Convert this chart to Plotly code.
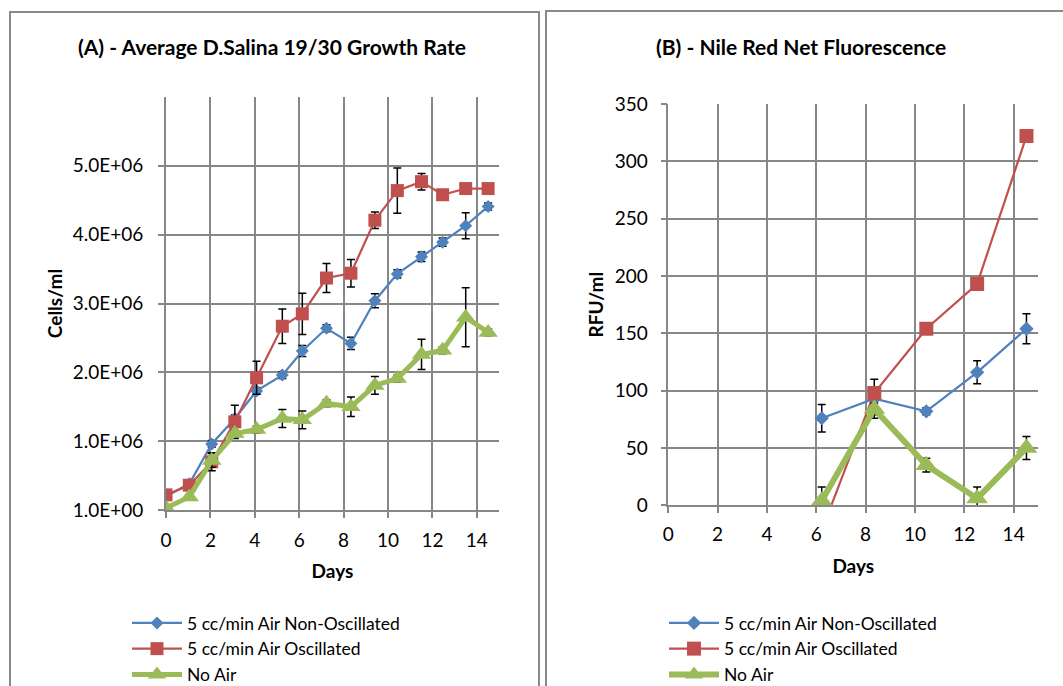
import plotly.graph_objects as go

# ---- (A) growth curve: cells/ml by day ----
days_a = [0, 1.05, 2.06, 3.1, 4.08, 5.24, 6.14, 7.23, 8.33, 9.41, 10.42, 11.51, 12.46, 13.5, 14.51]
non_osc_a = [0.20e6, 0.38e6, 0.96e6, 1.33e6, 1.73e6, 1.96e6, 2.31e6, 2.64e6, 2.42e6, 3.04e6,
             3.43e6, 3.68e6, 3.89e6, 4.13e6, 4.41e6]
osc_a = [0.22e6, 0.36e6, 0.70e6, 1.28e6, 1.92e6, 2.67e6, 2.85e6, 3.37e6, 3.44e6, 4.21e6,
         4.64e6, 4.77e6, 4.58e6, 4.67e6, 4.67e6]
no_air_a = [0.03e6, 0.19e6, 0.72e6, 1.11e6, 1.17e6, 1.33e6, 1.31e6, 1.55e6, 1.50e6, 1.81e6,
            1.91e6, 2.26e6, 2.32e6, 2.80e6, 2.58e6]
non_osc_a_err = [0, 0.03e6, 0.05e6, 0.05e6, 0.05e6, 0.05e6, 0.08e6, 0.05e6, 0.09e6, 0.10e6,
                 0.06e6, 0.07e6, 0.06e6, 0.19e6, 0.05e6]
osc_a_err = [0.03e6, 0.05e6, 0.13e6, 0.24e6, 0.24e6, 0.25e6, 0.30e6, 0.21e6, 0.20e6, 0.12e6,
             0.33e6, 0.12e6, 0.04e6, 0.04e6, 0.04e6]
no_air_a_err = [0, 0.03e6, 0.10e6, 0.05e6, 0.05e6, 0.13e6, 0.13e6, 0.05e6, 0.14e6, 0.13e6,
                0.05e6, 0.22e6, 0.05e6, 0.43e6, 0.05e6]
ytick_vals_a = [1, 1e6, 2e6, 3e6, 4e6, 5e6]
ytick_text_a = ["1.0E+00", "1.0E+06", "2.0E+06", "3.0E+06", "4.0E+06", "5.0E+06"]

# ---- (B) Nile Red net fluorescence ----
days_b = [6.22, 8.35, 10.46, 12.52, 14.52]
non_osc_b = [76, 93, 82, 116, 154]
osc_b = [-22, 98, 154, 193, 322]
no_air_b = [4, 84, 35, 6, 50]
non_osc_b_err = [12, 17, 3, 10, 13]
no_air_b_err = [12, 5, 6, 10, 10]

series_names = ["5 cc/min Air Non-Oscillated", "5 cc/min Air Oscillated", "No Air"]
BLUE, RED, GREEN = "#4F81BD", "#C0504D", "#9BBB59"
GRID = "#878787"
FONT = "Lato"
TICK_SIZE = 19
AXTITLE_SIZE = 19

W, H = 1063, 686
px = lambda v: v / W
py = lambda v: 1 - v / H

fig = go.Figure()


def err(vals):
    return dict(type="data", array=vals, visible=True, color="black", thickness=1.5, width=4)


styles = [
    dict(color=BLUE, symbol="diamond", lw=2.2),
    dict(color=RED, symbol="square", lw=2.2),
    dict(color=GREEN, symbol="triangle-up", lw=5),
]

# panel A traces
for i, (ys, es, msize) in enumerate([(non_osc_a, non_osc_a_err, 10),
                                      (osc_a, osc_a_err, 13),
                                      (no_air_a, no_air_a_err, 17)]):
    st = styles[i]
    fig.add_trace(go.Scatter(
        x=days_a, y=ys, mode="lines+markers", name=series_names[i],
        line=dict(color=st["color"], width=st["lw"]),
        marker=dict(symbol=st["symbol"], size=msize, color=st["color"]),
        error_y=err(es), xaxis="x", yaxis="y", legend="legend"))

# panel B traces
for i, (ys, es, msize) in enumerate([(non_osc_b, non_osc_b_err, 11),
                                      (osc_b, None, 14),
                                      (no_air_b, no_air_b_err, 19)]):
    st = styles[i]
    fig.add_trace(go.Scatter(
        x=days_b, y=ys, mode="lines+markers", name=series_names[i],
        line=dict(color=st["color"], width=st["lw"] + (1 if i == 2 else 0)),
        marker=dict(symbol=st["symbol"], size=msize, color=st["color"]),
        error_y=err(es) if es is not None else None,
        xaxis="x2", yaxis="y2", legend="legend2"))

axis_common = dict(
    showgrid=True, gridcolor=GRID, gridwidth=1.6,
    showline=True, linecolor=GRID, linewidth=1.6,
    ticks="outside", ticklen=6, tickcolor=GRID, tickwidth=1.6,
    zeroline=False, tickfont=dict(family=FONT, size=TICK_SIZE, color="black"),
)


def ax_title(text, standoff):
    return dict(text=f"<b>{text}</b>", font=dict(family=FONT, size=AXTITLE_SIZE), standoff=standoff)


legend_common = dict(xanchor="left", yanchor="top", font=dict(family=FONT, size=17.5),
                     bgcolor="rgba(0,0,0,0)", tracegroupgap=0, itemwidth=50)

fig.update_layout(
    width=W, height=H,
    margin=dict(l=0, r=0, t=0, b=0, autoexpand=False),
    paper_bgcolor="white", plot_bgcolor="white",
    font=dict(family=FONT, color="black"),
    xaxis=dict(domain=[px(166), px(499)], range=[0, 15], tickvals=list(range(0, 15, 2)),
               anchor="y", title=ax_title("Days", 15), ticklabelstandoff=6, **axis_common),
    yaxis=dict(domain=[py(510), py(97)], range=[1, 6e6], tickvals=ytick_vals_a,
               ticktext=ytick_text_a, anchor="x", title=ax_title("Cells/ml", 5),
               ticklabelstandoff=11, **axis_common),
    xaxis2=dict(domain=[px(668.3), px(1038.3)], range=[0, 15], tickvals=list(range(0, 15, 2)),
                anchor="y2", title=ax_title("Days", 16), ticklabelstandoff=5, **axis_common),
    yaxis2=dict(domain=[py(505.3), py(104)], range=[0, 350], dtick=50, anchor="x2",
                title=ax_title("RFU/ml", 6), ticklabelstandoff=9, **axis_common),
    legend=dict(x=px(127), y=py(605), **legend_common),
    legend2=dict(x=px(664), y=py(605), **legend_common),
    annotations=[
        dict(text="<b>(A) - Average D.Salina 19/30 Growth Rate</b>", x=px(272), y=py(47),
             xref="paper", yref="paper", showarrow=False, xanchor="center", yanchor="middle",
             font=dict(family=FONT, size=21, color="black")),
        dict(text="<b>(B) - Nile Red Net Fluorescence</b>", x=px(801), y=py(47),
             xref="paper", yref="paper", showarrow=False, xanchor="center", yanchor="middle",
             font=dict(family=FONT, size=21, color="black")),
    ],
    shapes=[
        dict(type="rect", xref="paper", yref="paper", x0=px(10), x1=px(539), y0=py(800), y1=py(12),
             line=dict(color="#8a8a8a", width=2), layer="below"),
        dict(type="rect", xref="paper", yref="paper", x0=px(546), x1=px(1200), y0=py(800), y1=py(11),
             line=dict(color="#8a8a8a", width=2), layer="below"),
    ],
)

fig.write_html("out.html")
